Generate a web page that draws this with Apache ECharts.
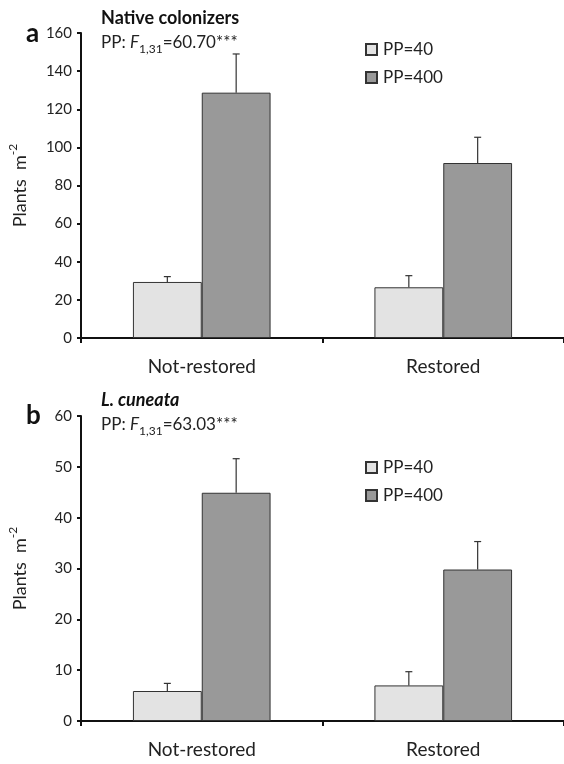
<!DOCTYPE html>
<html>
<head>
<meta charset="utf-8">
<script src="https://cdn.jsdelivr.net/npm/echarts@6/dist/echarts.min.js"></script>
<style>
  html, body { margin: 0; padding: 0; background: #fff; }
  #chart { width: 564px; height: 764px; }
</style>
</head>
<body>
<div id="chart"></div>
<script>
// categories and legend names
const sites = ['Not-restored', 'Restored'];
const groups = ['PP=40', 'PP=400'];

// panel a: Native colonizers (mean, upper end of error bar)
const nativeLow = [29.4, 26.6];
const nativeLowErr = [32.2, 32.7];
const nativeHigh = [128.7, 91.8];
const nativeHighErr = [149, 105.3];

// panel b: L. cuneata
const cuneataLow = [5.9, 7.0];
const cuneataLowErr = [7.4, 9.7];
const cuneataHigh = [44.9, 29.8];
const cuneataHighErr = [51.6, 35.3];

const FONT = 'Lato';
const BAR_FRAC = 0.285;
const lightFill = '#e3e3e3';
const darkFill = '#999999';
const edge = '#333333';

const chart = echarts.init(document.getElementById('chart'));

function errData(means, uppers) {
    return means.map((m, i) => [i, m, uppers[i]]);
}

// draws the upward error bar over one bar of the pair
function errRender(side) {
    return (params, api) => {
        const band = api.size([1, 0])[0];
        const off = side * band * BAR_FRAC / 2;
        const x = api.coord([api.value(0), 0])[0] + off;
        const yMean = api.coord([api.value(0), api.value(1)])[1];
        const yTop = api.coord([api.value(0), api.value(2)])[1];
        const style = { stroke: edge, lineWidth: 1.2 };
        return {
            type: 'group',
            children: [
                { type: 'line', shape: { x1: x, y1: yMean, x2: x, y2: yTop }, style },
                { type: 'line', shape: { x1: x - 3.5, y1: yTop, x2: x + 3.5, y2: yTop }, style }
            ]
        };
    };
}

function xAxis(idx) {
    return {
        type: 'category',
        gridIndex: idx,
        data: sites,
        axisLine: { lineStyle: { color: '#111', width: 2 } },
        axisTick: { show: true, length: 5, lineStyle: { color: '#111', width: 2 } },
        axisLabel: { color: '#222', fontSize: 19, fontFamily: FONT, margin: 19 }
    };
}

function yAxis(idx, max, step) {
    return {
        type: 'value',
        gridIndex: idx,
        min: 0,
        max: max,
        interval: step,
        name: '{t|Plants  m}{s|-2}',
        nameLocation: 'middle',
        nameRotate: 90,
        nameGap: 52,
        nameTextStyle: {
            rich: {
                t: { fontSize: 18, fontFamily: FONT, color: '#222', verticalAlign: 'bottom', lineHeight: 22 },
                s: { fontSize: 12, fontFamily: FONT, color: '#222', verticalAlign: 'top', lineHeight: 13 }
            }
        },
        axisLine: { show: true, lineStyle: { color: '#111', width: 2 } },
        axisTick: { show: true, length: 4, lineStyle: { color: '#111', width: 2 } },
        axisLabel: { color: '#222', fontSize: 15, fontFamily: FONT, margin: 9 },
        splitLine: { show: false }
    };
}

function bars(idx, low, high, lowErr, highErr) {
    const common = {
        type: 'bar',
        xAxisIndex: idx,
        yAxisIndex: idx,
        barWidth: (BAR_FRAC * 100) + '%',
        barGap: '0%'
    };
    const errCommon = {
        type: 'custom',
        xAxisIndex: idx,
        yAxisIndex: idx,
        z: 5,
        silent: true,
        encode: { x: 0, y: [1, 2] }
    };
    return [
        Object.assign({}, common, {
            name: groups[0], data: low,
            itemStyle: { color: lightFill, borderColor: edge, borderWidth: 1 }
        }),
        Object.assign({}, common, {
            name: groups[1], data: high,
            itemStyle: { color: darkFill, borderColor: edge, borderWidth: 1 }
        }),
        Object.assign({}, errCommon, { data: errData(low, lowErr), renderItem: errRender(-1) }),
        Object.assign({}, errCommon, { data: errData(high, highErr), renderItem: errRender(1) })
    ];
}

function legend(top) {
    return {
        left: 360,
        top: top,
        orient: 'vertical',
        itemGap: 11,
        icon: 'rect',
        itemWidth: 11,
        itemHeight: 11,
        data: groups,
        textStyle: { fontSize: 17, fontFamily: FONT, color: '#222', padding: [0, 0, 0, 1] }
    };
}

// stat line: main text raised a little so the subscript sits below the baseline
const statRich = {
    p: { fontSize: 17, fontFamily: FONT, fontWeight: 'normal', color: '#222', verticalAlign: 'bottom', lineHeight: 22, padding: [0, 0, 4, 0] },
    f: { fontSize: 17, fontFamily: FONT, fontWeight: 'normal', fontStyle: 'italic', color: '#222', verticalAlign: 'bottom', lineHeight: 22, padding: [0, 0, 4, 0] },
    s: { fontSize: 12, fontFamily: FONT, fontWeight: 'normal', color: '#222', verticalAlign: 'bottom', lineHeight: 12 }
};

const option = {
    backgroundColor: '#fff',
    animation: false,
    grid: [
        { left: 81, right: 0, top: 33, height: 305, containLabel: false, outerBoundsMode: 'none' },
        { left: 81, right: 0, top: 416, height: 305, containLabel: false, outerBoundsMode: 'none' }
    ],
    xAxis: [xAxis(0), xAxis(1)],
    yAxis: [yAxis(0, 160, 20), yAxis(1, 60, 10)],
    legend: [legend(36), legend(454)],
    title: [
        { text: 'a', left: 21, top: 16, textStyle: { fontSize: 26, fontWeight: 'bold', fontFamily: FONT, color: '#111' } },
        { text: 'Native colonizers', left: 96, top: 4, textStyle: { fontSize: 18, fontWeight: 'bold', fontFamily: FONT, color: '#111' } },
        { text: '{p|PP: }{f|F}{s|1,31}{p|=60.70***}', left: 96, top: 28, textStyle: { rich: statRich } },
        { text: 'b', left: 21, top: 398, textStyle: { fontSize: 26, fontWeight: 'bold', fontFamily: FONT, color: '#111' } },
        { text: 'L. cuneata', left: 96, top: 386, textStyle: { fontSize: 18, fontWeight: 'bold', fontStyle: 'italic', fontFamily: FONT, color: '#111' } },
        { text: '{p|PP: }{f|F}{s|1,31}{p|=63.03***}', left: 96, top: 410, textStyle: { rich: statRich } }
    ],
    series: [].concat(
        bars(0, nativeLow, nativeHigh, nativeLowErr, nativeHighErr),
        bars(1, cuneataLow, cuneataHigh, cuneataLowErr, cuneataHighErr)
    )
};

chart.setOption(option);
</script>
</body>
</html>
